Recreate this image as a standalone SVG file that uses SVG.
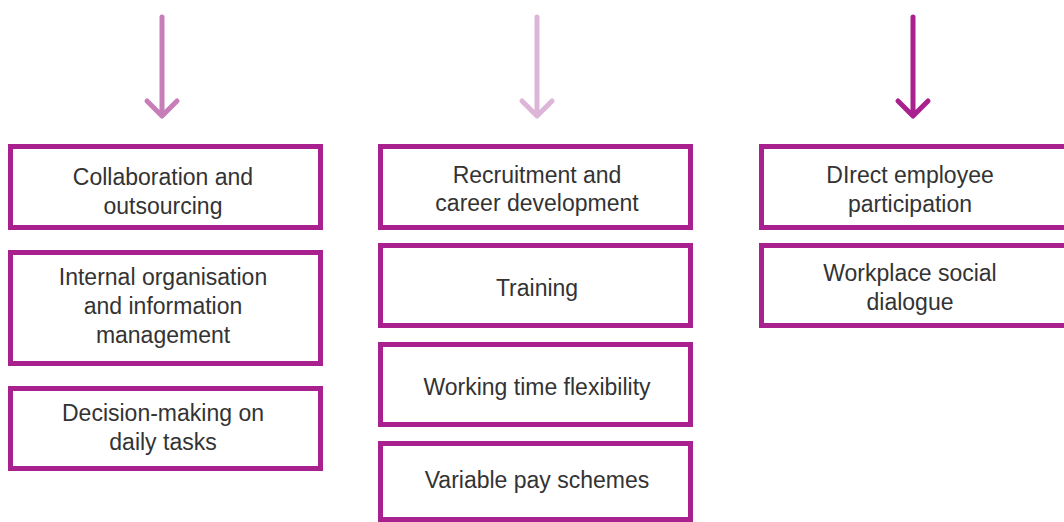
<svg xmlns="http://www.w3.org/2000/svg" width="1064" height="522" viewBox="0 0 1064 522">
<style>
.box{fill:#fff;stroke:#a9218e;stroke-width:5}
.t{font-family:"Liberation Sans",Arial,sans-serif;font-size:23px;fill:#333;text-anchor:middle}
.arr{fill:none;stroke-width:5;stroke-linecap:round;stroke-linejoin:round}
</style>
<rect width="1064" height="522" fill="#fff"/>
<g id="connectors">
<path class="arr" stroke="#c77db8" d="M162 17V115M147 101L162 116L177 101"/>
<path class="arr" stroke="#ddb5d9" d="M537 17V115M522 101L537 116L552 101"/>
<path class="arr" stroke="#a9218e" d="M913 17V115M898 101L913 116L928 101"/>
</g>
<g id="n1"><rect class="box" x="10.5" y="146.5" width="310" height="81"/><text class="t" x="163" y="185">Collaboration and</text><text class="t" x="163" y="214">outsourcing</text></g>
<g id="n2"><rect class="box" x="10.5" y="252.5" width="310" height="111"/><text class="t" x="163" y="285">Internal organisation</text><text class="t" x="163" y="314">and information</text><text class="t" x="163" y="343">management</text></g>
<g id="n3"><rect class="box" x="10.5" y="388.5" width="310" height="80"/><text class="t" x="163" y="421">Decision-making on</text><text class="t" x="163" y="450">daily tasks</text></g>
<g id="n4"><rect class="box" x="380.5" y="146.5" width="310" height="81"/><text class="t" x="537" y="183">Recruitment and</text><text class="t" x="537" y="211">career development</text></g>
<g id="n5"><rect class="box" x="380.5" y="245.5" width="310" height="80"/><text class="t" x="537" y="296">Training</text></g>
<g id="n6"><rect class="box" x="380.5" y="344.5" width="310" height="80"/><text class="t" x="537" y="395">Working time flexibility</text></g>
<g id="n7"><rect class="box" x="380.5" y="443.5" width="310" height="76"/><text class="t" x="537" y="488">Variable pay schemes</text></g>
<g id="n8"><rect class="box" x="761.5" y="146.5" width="310" height="81"/><text class="t" x="910" y="183">DIrect employee</text><text class="t" x="910" y="212">participation</text></g>
<g id="n9"><rect class="box" x="761.5" y="245.5" width="310" height="80"/><text class="t" x="910" y="281">Workplace social</text><text class="t" x="910" y="310">dialogue</text></g>
</svg>
